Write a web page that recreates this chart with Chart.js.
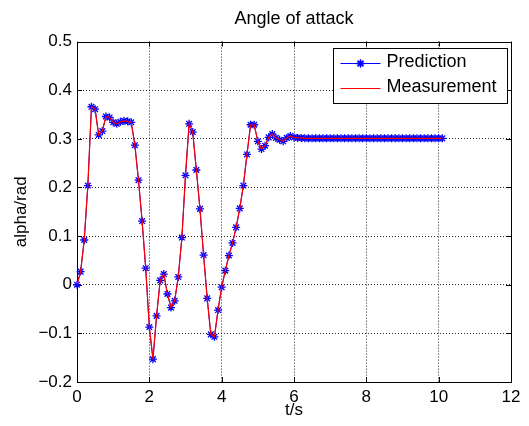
<!DOCTYPE html>
<html>
<head>
<meta charset="utf-8">
<script src="https://cdn.jsdelivr.net/npm/chart.js@4.4.1/dist/chart.umd.min.js"></script>
<style>
  html, body { margin: 0; padding: 0; background: #fff; }
  #wrap { width: 529px; height: 426px; }
</style>
</head>
<body>
<div id="wrap"><canvas id="myChart" width="529" height="426"></canvas></div>
<script>
// sample times (s)
const times = [
  0, 0.1, 0.2, 0.3, 0.4, 0.5, 0.6, 0.7, 0.8, 0.9,
  1, 1.1, 1.2, 1.3, 1.4, 1.5, 1.6, 1.7, 1.8, 1.9,
  2, 2.1, 2.2, 2.3, 2.4, 2.5, 2.6, 2.7, 2.8, 2.9,
  3, 3.1, 3.2, 3.3, 3.4, 3.5, 3.6, 3.7, 3.8, 3.9,
  4, 4.1, 4.2, 4.3, 4.4, 4.5, 4.6, 4.7, 4.8, 4.9,
  5, 5.1, 5.2, 5.3, 5.4, 5.5, 5.6, 5.7, 5.8, 5.9,
  6, 6.1, 6.2, 6.3, 6.4, 6.5, 6.6, 6.7, 6.8, 6.9,
  7, 7.1, 7.2, 7.3, 7.4, 7.5, 7.6, 7.7, 7.8, 7.9,
  8, 8.1, 8.2, 8.3, 8.4, 8.5, 8.6, 8.7, 8.8, 8.9,
  9, 9.1, 9.2, 9.3, 9.4, 9.5, 9.6, 9.7, 9.8, 9.9,
  10, 10.1
];

// alpha (rad)
const prediction = [
  0, 0.027, 0.092, 0.204, 0.366, 0.361, 0.308, 0.316, 0.346, 0.344,
  0.334, 0.331, 0.335, 0.337, 0.336, 0.334, 0.287, 0.215, 0.131, 0.034,
  -0.087, -0.153, -0.064, 0.009, 0.022, -0.019, -0.047, -0.033, 0.016, 0.097,
  0.225, 0.331, 0.314, 0.236, 0.156, 0.061, -0.028, -0.102, -0.107, -0.052,
  -0.005, 0.029, 0.06, 0.086, 0.118, 0.157, 0.204, 0.268, 0.329, 0.329,
  0.295, 0.279, 0.286, 0.303, 0.31, 0.302, 0.298, 0.295, 0.302, 0.306,
  0.303, 0.302, 0.302, 0.301, 0.301, 0.301, 0.301, 0.301, 0.301, 0.301,
  0.301, 0.301, 0.301, 0.301, 0.301, 0.301, 0.301, 0.301, 0.301, 0.301,
  0.301, 0.301, 0.301, 0.301, 0.301, 0.301, 0.301, 0.301, 0.301, 0.301,
  0.301, 0.301, 0.301, 0.301, 0.301, 0.301, 0.301, 0.301, 0.301, 0.301,
  0.301, 0.301
];

const measurement = [
  0, 0.027, 0.092, 0.204, 0.366, 0.361, 0.308, 0.316, 0.346, 0.344,
  0.334, 0.331, 0.335, 0.337, 0.336, 0.334, 0.287, 0.215, 0.131, 0.034,
  -0.087, -0.153, -0.064, 0.009, 0.022, -0.019, -0.047, -0.033, 0.016, 0.097,
  0.225, 0.331, 0.314, 0.236, 0.156, 0.061, -0.028, -0.102, -0.107, -0.052,
  -0.005, 0.029, 0.06, 0.086, 0.118, 0.157, 0.204, 0.268, 0.329, 0.329,
  0.295, 0.279, 0.286, 0.303, 0.31, 0.302, 0.298, 0.295, 0.302, 0.306,
  0.303, 0.302, 0.302, 0.301, 0.301, 0.301, 0.301, 0.301, 0.301, 0.301,
  0.301, 0.301, 0.301, 0.301, 0.301, 0.301, 0.301, 0.301, 0.301, 0.301,
  0.301, 0.301, 0.301, 0.301, 0.301, 0.301, 0.301, 0.301, 0.301, 0.301,
  0.301, 0.301, 0.301, 0.301, 0.301, 0.301, 0.301, 0.301, 0.301, 0.301,
  0.301, 0.301
];

const xTicks = [0, 2, 4, 6, 8, 10, 12];
const yTicks = [-0.2, -0.1, 0, 0.1, 0.2, 0.3, 0.4, 0.5];
const seriesNames = ["Prediction", "Measurement"];

function toPoints(ys) {
  return times.map(function (t, i) {
    return { x: t, y: ys[i] };
  });
}

function fmt(v) {
  return String(Math.round(v * 10) / 10).replace("-", "\u2212");
}

Chart.defaults.font.family = "'Liberation Sans', Arial, sans-serif";
Chart.defaults.color = "#000";

// box round the axes, with inward ticks like matlab
const boxPlugin = {
  id: "box",
  beforeDatasetsDraw(chart) {
    const a = chart.chartArea;
    const ctx = chart.ctx;
    const xs = chart.scales.x;
    const ys = chart.scales.y;
    const tl = 5;
    ctx.save();
    ctx.strokeStyle = "#000";
    ctx.lineWidth = 1;
    ctx.beginPath();
    xTicks.forEach(function (v) {
      const px = Math.round(xs.getPixelForValue(v)) + 0.5;
      ctx.moveTo(px, a.top);
      ctx.lineTo(px, a.top + tl);
      ctx.moveTo(px, a.bottom);
      ctx.lineTo(px, a.bottom - tl);
    });
    yTicks.forEach(function (v) {
      const py = Math.round(ys.getPixelForValue(v)) + 0.5;
      ctx.moveTo(a.left, py);
      ctx.lineTo(a.left + tl, py);
      ctx.moveTo(a.right, py);
      ctx.lineTo(a.right - tl, py);
    });
    ctx.stroke();
    ctx.strokeRect(Math.round(a.left) + 0.5, Math.round(a.top) + 0.5,
      Math.round(a.right - a.left), Math.round(a.bottom - a.top));
    ctx.restore();
  },
};

// legend box inside the plot, top right
const legendPlugin = {
  id: "boxLegend",
  afterDatasetsDraw(chart) {
    const a = chart.chartArea;
    const ctx = chart.ctx;
    const w = 174, h = 55;
    const x0 = Math.round(a.right - 4 - w) + 0.5;
    const y0 = Math.round(a.top + 6) + 0.5;
    ctx.save();
    ctx.fillStyle = "#fff";
    ctx.fillRect(x0, y0, w, h);
    ctx.strokeStyle = "#000";
    ctx.lineWidth = 1;
    ctx.strokeRect(x0, y0, w, h);

    const rows = [y0 + 14, y0 + 39];
    const ds = chart.data.datasets;
    ctx.font = "18px 'Liberation Sans', Arial, sans-serif";
    ctx.textBaseline = "middle";
    ctx.textAlign = "left";
    seriesNames.forEach(function (name, i) {
      const yy = Math.round(rows[i]) + 0.5;
      ctx.strokeStyle = ds[i].borderColor;
      ctx.lineWidth = 1;
      ctx.beginPath();
      ctx.moveTo(x0 + 7, yy);
      ctx.lineTo(x0 + 47, yy);
      ctx.stroke();
      if (i === 0) {
        ctx.lineWidth = 1.3;
        Chart.helpers.drawPoint(ctx, { pointStyle: "star", radius: 4, rotation: 0, borderWidth: 1.3 }, x0 + 27, yy);
        ctx.stroke();
      }
      ctx.fillStyle = "#000";
      ctx.fillText(name, x0 + 53, rows[i]);
    });
    ctx.restore();
  },
};

const ctx = document.getElementById("myChart").getContext("2d");
const myChart = new Chart(ctx, {
  type: "line",
  data: {
    datasets: [
      {
        label: seriesNames[0],
        data: toPoints(prediction),
        borderColor: "rgb(0, 0, 255)",
        backgroundColor: "rgb(0, 0, 255)",
        borderWidth: 1,
        pointStyle: "star",
        pointRadius: 4,
        pointBorderWidth: 1.3,
        pointBorderColor: "rgb(0, 0, 255)",
        tension: 0,
        clip: false,
        order: 1,
      },
      {
        label: seriesNames[1],
        data: toPoints(measurement),
        borderColor: "rgb(255, 0, 0)",
        backgroundColor: "rgb(255, 0, 0)",
        borderWidth: 1.2,
        pointRadius: 0,
        tension: 0,
        clip: false,
        order: 0,
      },
    ],
  },
  options: {
    responsive: false,
    animation: false,
    events: [],
    layout: {
      padding: { left: 0, right: 18, top: 0, bottom: 0 },
    },
    plugins: {
      legend: { display: false },
      tooltip: { enabled: false },
      title: {
        display: true,
        text: "Angle of attack",
        fullSize: false,
        font: { size: 18, weight: "normal" },
        padding: { top: 8, bottom: 12 },
        color: "#000",
      },
    },
    scales: {
      x: {
        type: "linear",
        min: 0,
        max: 12,
        afterFit: function (scale) {
          scale.height = 44;
        },
        afterBuildTicks: function (scale) {
          scale.ticks = xTicks.map(function (v) { return { value: v }; });
        },
        ticks: {
          font: { size: 17 },
          padding: 5,
          maxRotation: 0,
          autoSkip: false,
          callback: function (v) { return String(v); },
        },
        grid: {
          drawTicks: false,
          color: function (c) {
            return c.tick && (c.tick.value === 0 || c.tick.value === 12) ? "rgba(0,0,0,0)" : "rgba(0,0,0,0.85)";
          },
          lineWidth: 1,
        },
        border: { display: false, dash: [1, 2] },
        title: {
          display: true,
          text: "t/s",
          font: { size: 17 },
          padding: { top: 0, bottom: 5 },
        },
      },
      y: {
        type: "linear",
        min: -0.2,
        max: 0.5,
        afterFit: function (scale) {
          scale.width = 77;
        },
        afterBuildTicks: function (scale) {
          scale.ticks = yTicks.map(function (v) { return { value: v }; });
        },
        ticks: {
          font: { size: 17 },
          padding: 5,
          autoSkip: false,
          callback: function (v) { return fmt(v); },
        },
        grid: {
          drawTicks: false,
          color: function (c) {
            return c.tick && (Math.abs(c.tick.value - 0.5) < 1e-9 || Math.abs(c.tick.value + 0.2) < 1e-9) ? "rgba(0,0,0,0)" : "rgba(0,0,0,0.85)";
          },
          lineWidth: 1,
        },
        border: { display: false, dash: [1, 2] },
        title: {
          display: true,
          text: "alpha/rad",
          font: { size: 17 },
          padding: { top: 11, bottom: 0 },
        },
      },
    },
  },
  plugins: [boxPlugin, legendPlugin],
});
</script>
</body>
</html>
